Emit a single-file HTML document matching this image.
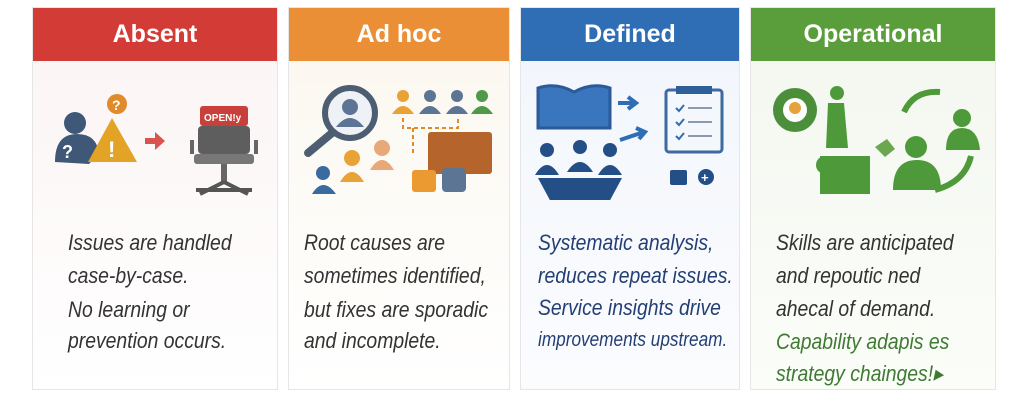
<!DOCTYPE html>
<html><head><meta charset="utf-8"><style>
body{margin:0;width:1024px;height:405px;background:#fff;position:relative;overflow:hidden;font-family:"Liberation Sans",sans-serif}
.card{position:absolute;top:7px;height:383px;border:1px solid #e6e6e6;box-sizing:border-box}
.hd{position:absolute;left:0;right:0;top:0;height:53px;color:#fff;font-weight:bold;font-size:25px;text-align:center;line-height:53px}
.t{position:absolute;font-size:22px;font-style:italic;white-space:nowrap;transform:scaleX(.88);transform-origin:left top;line-height:22px}
svg{position:absolute}
</style></head><body>
<div class="card" style="left:32px;width:246px;background:linear-gradient(#fbf3f3,#fff)"><div class="hd" style="background:#d33b36">Absent</div></div>
<div class="card" style="left:288px;width:222px;background:linear-gradient(#fbf7ee,#fff)"><div class="hd" style="background:#ea8f35">Ad hoc</div></div>
<div class="card" style="left:520px;width:220px;background:linear-gradient(#f1f5fb,#fbfcfe)"><div class="hd" style="background:#2f6db5">Defined</div></div>
<div class="card" style="left:750px;width:246px;background:linear-gradient(#f3f7ef,#fbfdf9)"><div class="hd" style="background:#5a9e3c">Operational</div></div>

<svg width="1024" height="200" style="left:0;top:0">
<circle cx="75" cy="123" r="11" fill="#3f5877"/><path d="M55 162 q0-28 22-28 q20 0 22 20 l-10 10z" fill="#3f5877"/>
<text x="62" y="158" fill="#fff" font-size="18" font-weight="bold">?</text>
<circle cx="117" cy="104" r="10" fill="#e08a2a"/><text x="112" y="110" fill="#fff" font-size="14" font-weight="bold">?</text>
<path d="M112 118 L137 162 L88 162Z" fill="#e2a326"/><text x="108" y="157" fill="#fff" font-size="22" font-weight="bold">!</text>
<path d="M145 138 h10 v-6 l10 9 l-10 9 v-6 h-10z" fill="#d9534f"/>
<rect x="200" y="106" width="48" height="20" rx="3" fill="#c9403a"/><text x="204" y="121" fill="#fff" font-size="10" font-weight="bold">OPEN!y</text>
<rect x="198" y="126" width="52" height="28" rx="4" fill="#5e5e5e"/><rect x="194" y="154" width="60" height="10" rx="3" fill="#777"/>
<path d="M192 140 v14 M256 140 v14" stroke="#666" stroke-width="4" fill="none"/>
<rect x="221" y="164" width="6" height="18" fill="#666"/><path d="M196 190 L252 190 M224 182 L200 194 M224 182 L248 194" stroke="#555" stroke-width="4"/>
<circle cx="350" cy="113" r="25" fill="#eef2f6" stroke="#4d5e72" stroke-width="6"/><circle cx="350" cy="107" r="8" fill="#5d7595"/><path d="M336 127 q14-18 28 0z" fill="#5d7595"/>
<path d="M332 133 L308 153" stroke="#4d5e72" stroke-width="8" stroke-linecap="round"/>
<g fill="#e9a236"><circle cx="403" cy="96" r="6"/><path d="M392 114 q11-16 22 0z"/></g>
<g fill="#5d7595"><circle cx="430" cy="96" r="6"/><path d="M419 114 q11-16 22 0z"/><circle cx="457" cy="96" r="6"/><path d="M446 114 q11-16 22 0z"/></g>
<g fill="#4e9a4a"><circle cx="482" cy="96" r="6"/><path d="M471 114 q11-16 22 0z"/></g>
<path d="M403 118 v10 h55 v-10 M413 128 v25" stroke="#e08a2a" stroke-width="2" stroke-dasharray="4 3" fill="none"/>
<rect x="428" y="132" width="64" height="42" rx="3" fill="#b5652c"/>
<rect x="412" y="170" width="24" height="22" rx="3" fill="#ea9a30"/><rect x="442" y="168" width="24" height="24" rx="4" fill="#5d7595"/>
<circle cx="382" cy="148" r="8" fill="#e8a877"/><path d="M370 170 q12-20 24 0z" fill="#e8a877"/>
<circle cx="352" cy="158" r="8" fill="#e9a236"/><path d="M340 182 q12-20 24 0z" fill="#e9a236"/>
<circle cx="323" cy="173" r="7" fill="#3a6aa0"/><path d="M312 194 q11-18 24 0z" fill="#3a6aa0"/>
<path d="M538 88 q18-6 36 4 q18-10 36-4 v40 h-72z" fill="#3a76bd" stroke="#2a5a98" stroke-width="3"/>
<path d="M618 103 h16 M628 97 l8 6 l-8 6" stroke="#2f6db5" stroke-width="4" fill="none"/>
<path d="M620 140 l24-8 M636 128 l9 4 l-6 7" stroke="#2f6db5" stroke-width="4" fill="none"/>
<rect x="666" y="90" width="56" height="62" rx="3" fill="#f4f7fb" stroke="#3d6aa1" stroke-width="3"/><rect x="676" y="86" width="36" height="8" fill="#2f5f99"/>
<g stroke="#8a9bb0" stroke-width="2"><path d="M688 108 h24 M688 122 h24 M688 136 h24"/></g>
<g stroke="#2f6db5" stroke-width="2" fill="none"><path d="M676 108 l3 3 l5-6 M676 122 l3 3 l5-6 M676 136 l3 3 l5-6"/></g>
<g fill="#244f86"><circle cx="547" cy="150" r="7"/><circle cx="580" cy="147" r="7"/><circle cx="610" cy="150" r="7"/>
<path d="M535 175 q12-20 24 0z M567 172 q13-20 26 0z M598 175 q12-20 24 0z"/><path d="M538 178 h84 l-14 26 h-56z"/></g>
<rect x="670" y="170" width="17" height="15" rx="2" fill="#244f86"/><circle cx="706" cy="177" r="8" fill="#244f86"/><text x="701" y="182" fill="#fff" font-size="13" font-weight="bold">+</text>
<circle cx="795" cy="110" r="22" fill="#4b8f3a"/><circle cx="795" cy="110" r="12" fill="#fff"/><circle cx="795" cy="108" r="6" fill="#e6a23a"/>
<circle cx="837" cy="93" r="7" fill="#4e9a3a"/><path d="M828 103 h16 l4 45 h-22z" fill="#4e9a3a"/>
<rect x="820" y="156" width="50" height="38" fill="#4e9a3a"/><circle cx="825" cy="165" r="9" fill="#4e9a3a"/>
<path d="M875 147 l12-8 l8 10 l-10 8z" fill="#6aa74f"/>
<path d="M904 112 q10-22 36-20" stroke="#4e9a3a" stroke-width="6" fill="none"/>
<circle cx="916" cy="147" r="11" fill="#4e9a3a"/><path d="M893 190 q0-30 24-30 q24 0 24 30z" fill="#4e9a3a"/>
<circle cx="962" cy="118" r="9" fill="#4e9a3a"/><path d="M946 150 q0-22 16-22 q16 0 18 22z" fill="#4e9a3a"/>
<path d="M935 190 q30-8 36-34" stroke="#4e9a3a" stroke-width="6" fill="none"/>
</svg>

<div class="t" style="left:68px;top:232px;color:#333">Issues are handled</div>
<div class="t" style="left:68px;top:265px;color:#333">case-by-case.</div>
<div class="t" style="left:68px;top:299px;color:#333">No learning or</div>
<div class="t" style="left:68px;top:330px;color:#333">prevention occurs.</div>

<div class="t" style="left:304px;top:232px;color:#333">Root causes are</div>
<div class="t" style="left:304px;top:265px;color:#333">sometimes identified,</div>
<div class="t" style="left:304px;top:299px;color:#333">but fixes are sporadic</div>
<div class="t" style="left:304px;top:330px;color:#333">and incomplete.</div>

<div class="t" style="left:538px;top:232px;color:#243f73">Systematic analysis,</div>
<div class="t" style="left:538px;top:265px;color:#243f73">reduces repeat issues.</div>
<div class="t" style="left:538px;top:297px;color:#243f73">Service insights drive</div>
<div class="t" style="left:538px;top:329px;color:#243f73;font-size:20px;transform:scaleX(.86)">improvements upstream.</div>

<div class="t" style="left:776px;top:232px;color:#333">Skills are anticipated</div>
<div class="t" style="left:776px;top:265px;color:#333">and repoutic ned</div>
<div class="t" style="left:776px;top:298px;color:#333">ahecal of demand.</div>
<div class="t" style="left:776px;top:331px;color:#3f7a33">Capability adapis es</div>
<div class="t" style="left:776px;top:363px;color:#3f7a33">strategy chainges!▸</div>
</body></html>
